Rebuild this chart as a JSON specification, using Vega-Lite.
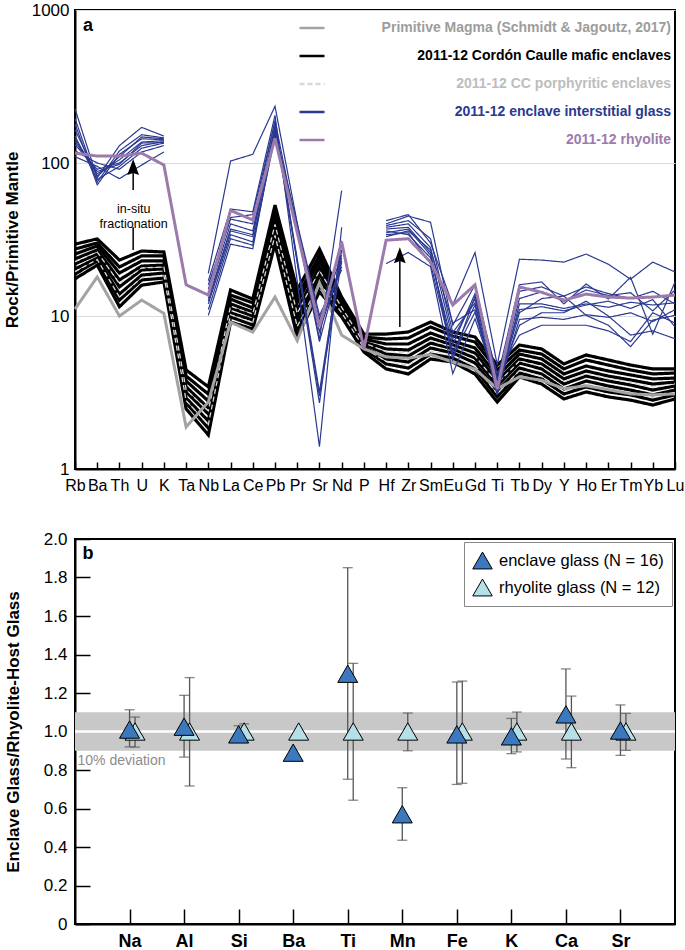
{
"$schema":"https://vega.github.io/schema/vega-lite/v6.json",
"background":"white",
"padding":{"left":2,"top":0,"right":5,"bottom":0},
"spacing":35,
"config":{"font":"Liberation Sans","view":{"stroke":"black","strokeWidth":2},"axis":{"domainColor":"black","domainWidth":2,"tickColor":"black","tickWidth":1.5,"labelColor":"black","titleColor":"black","labelOverlap":false}},
"resolve":{"scale":{"x":"independent","y":"independent","color":"independent","strokeDash":"independent","fill":"independent","xOffset":"independent"},"legend":{"color":"independent","fill":"independent","strokeDash":"independent"}},
"datasets":{
"sp":[
{"g":"ME","s":"M0","e":"Rb","v":29.5},{"g":"ME","s":"M0","e":"Ba","v":31.9},{"g":"ME","s":"M0","e":"Th","v":23.2},{"g":"ME","s":"M0","e":"U","v":26.6},{"g":"ME","s":"M0","e":"K","v":26.2},{"g":"ME","s":"M0","e":"Ta","v":4.44},{"g":"ME","s":"M0","e":"Nb","v":3.44},{"g":"ME","s":"M0","e":"La","v":14.8},{"g":"ME","s":"M0","e":"Ce","v":12.9},{"g":"ME","s":"M0","e":"Pb","v":53.1},{"g":"ME","s":"M0","e":"Pr","v":14.8},{"g":"ME","s":"M0","e":"Sr","v":27.4},{"g":"ME","s":"M0","e":"Nd","v":13.3},{"g":"ME","s":"M0","e":"P","v":7.62},{"g":"ME","s":"M0","e":"Hf","v":7.62},{"g":"ME","s":"M0","e":"Zr","v":7.86},{"g":"ME","s":"M0","e":"Sm","v":9.13},{"g":"ME","s":"M0","e":"Eu","v":7.86},{"g":"ME","s":"M0","e":"Gd","v":7.29},{"g":"ME","s":"M0","e":"Ti","v":4.78},{"g":"ME","s":"M0","e":"Tb","v":6.46},{"g":"ME","s":"M0","e":"Dy","v":6.09},{"g":"ME","s":"M0","e":"Y","v":4.86},{"g":"ME","s":"M0","e":"Ho","v":5.56},{"g":"ME","s":"M0","e":"Er","v":5.16},{"g":"ME","s":"M0","e":"Tm","v":4.78},{"g":"ME","s":"M0","e":"Yb","v":4.51},{"g":"ME","s":"M0","e":"Lu","v":4.51},
{"g":"ME","s":"M1","e":"Rb","v":27.4},{"g":"ME","s":"M1","e":"Ba","v":30.0},{"g":"ME","s":"M1","e":"Th","v":20.9},{"g":"ME","s":"M1","e":"U","v":24.7},{"g":"ME","s":"M1","e":"K","v":24.7},{"g":"ME","s":"M1","e":"Ta","v":4.05},{"g":"ME","s":"M1","e":"Nb","v":3.09},{"g":"ME","s":"M1","e":"La","v":13.7},{"g":"ME","s":"M1","e":"Ce","v":12.2},{"g":"ME","s":"M1","e":"Pb","v":48.6},{"g":"ME","s":"M1","e":"Pr","v":13.3},{"g":"ME","s":"M1","e":"Sr","v":25.0},{"g":"ME","s":"M1","e":"Nd","v":12.7},{"g":"ME","s":"M1","e":"P","v":7.29},{"g":"ME","s":"M1","e":"Hf","v":7.07},{"g":"ME","s":"M1","e":"Zr","v":7.18},{"g":"ME","s":"M1","e":"Sm","v":8.48},{"g":"ME","s":"M1","e":"Eu","v":7.40},{"g":"ME","s":"M1","e":"Gd","v":6.76},{"g":"ME","s":"M1","e":"Ti","v":4.44},{"g":"ME","s":"M1","e":"Tb","v":5.99},{"g":"ME","s":"M1","e":"Dy","v":5.64},{"g":"ME","s":"M1","e":"Y","v":4.51},{"g":"ME","s":"M1","e":"Ho","v":5.16},{"g":"ME","s":"M1","e":"Er","v":4.78},{"g":"ME","s":"M1","e":"Tm","v":4.44},{"g":"ME","s":"M1","e":"Yb","v":4.18},{"g":"ME","s":"M1","e":"Lu","v":4.24},
{"g":"ME","s":"M2","e":"Rb","v":25.4},{"g":"ME","s":"M2","e":"Ba","v":28.7},{"g":"ME","s":"M2","e":"Th","v":19.1},{"g":"ME","s":"M2","e":"U","v":22.9},{"g":"ME","s":"M2","e":"K","v":22.9},{"g":"ME","s":"M2","e":"Ta","v":3.76},{"g":"ME","s":"M2","e":"Nb","v":2.78},{"g":"ME","s":"M2","e":"La","v":12.9},{"g":"ME","s":"M2","e":"Ce","v":11.3},{"g":"ME","s":"M2","e":"Pb","v":45.0},{"g":"ME","s":"M2","e":"Pr","v":12.2},{"g":"ME","s":"M2","e":"Sr","v":22.9},{"g":"ME","s":"M2","e":"Nd","v":12.2},{"g":"ME","s":"M2","e":"P","v":7.07},{"g":"ME","s":"M2","e":"Hf","v":6.56},{"g":"ME","s":"M2","e":"Zr","v":6.56},{"g":"ME","s":"M2","e":"Sm","v":7.74},{"g":"ME","s":"M2","e":"Eu","v":6.86},{"g":"ME","s":"M2","e":"Gd","v":6.18},{"g":"ME","s":"M2","e":"Ti","v":4.05},{"g":"ME","s":"M2","e":"Tb","v":5.64},{"g":"ME","s":"M2","e":"Dy","v":5.24},{"g":"ME","s":"M2","e":"Y","v":4.18},{"g":"ME","s":"M2","e":"Ho","v":4.71},{"g":"ME","s":"M2","e":"Er","v":4.37},{"g":"ME","s":"M2","e":"Tm","v":4.12},{"g":"ME","s":"M2","e":"Yb","v":3.88},{"g":"ME","s":"M2","e":"Lu","v":3.93},
{"g":"ME","s":"M3","e":"Rb","v":23.6},{"g":"ME","s":"M3","e":"Ba","v":27.0},{"g":"ME","s":"M3","e":"Th","v":17.2},{"g":"ME","s":"M3","e":"U","v":21.2},{"g":"ME","s":"M3","e":"K","v":21.5},{"g":"ME","s":"M3","e":"Ta","v":3.44},{"g":"ME","s":"M3","e":"Nb","v":2.50},{"g":"ME","s":"M3","e":"La","v":12.0},{"g":"ME","s":"M3","e":"Ce","v":10.6},{"g":"ME","s":"M3","e":"Pb","v":41.2},{"g":"ME","s":"M3","e":"Pr","v":10.9},{"g":"ME","s":"M3","e":"Sr","v":20.9},{"g":"ME","s":"M3","e":"Nd","v":11.6},{"g":"ME","s":"M3","e":"P","v":6.76},{"g":"ME","s":"M3","e":"Hf","v":6.09},{"g":"ME","s":"M3","e":"Zr","v":5.99},{"g":"ME","s":"M3","e":"Sm","v":7.18},{"g":"ME","s":"M3","e":"Eu","v":6.46},{"g":"ME","s":"M3","e":"Gd","v":5.73},{"g":"ME","s":"M3","e":"Ti","v":3.76},{"g":"ME","s":"M3","e":"Tb","v":5.24},{"g":"ME","s":"M3","e":"Dy","v":4.86},{"g":"ME","s":"M3","e":"Y","v":3.88},{"g":"ME","s":"M3","e":"Ho","v":4.37},{"g":"ME","s":"M3","e":"Er","v":4.05},{"g":"ME","s":"M3","e":"Tm","v":3.82},{"g":"ME","s":"M3","e":"Yb","v":3.59},{"g":"ME","s":"M3","e":"Lu","v":3.70},
{"g":"ME","s":"M4","e":"Rb","v":21.9},{"g":"ME","s":"M4","e":"Ba","v":25.4},{"g":"ME","s":"M4","e":"Th","v":15.5},{"g":"ME","s":"M4","e":"U","v":20.0},{"g":"ME","s":"M4","e":"K","v":20.3},{"g":"ME","s":"M4","e":"Ta","v":3.19},{"g":"ME","s":"M4","e":"Nb","v":2.29},{"g":"ME","s":"M4","e":"La","v":11.3},{"g":"ME","s":"M4","e":"Ce","v":10.0},{"g":"ME","s":"M4","e":"Pb","v":38.2},{"g":"ME","s":"M4","e":"Pr","v":9.86},{"g":"ME","s":"M4","e":"Sr","v":18.8},{"g":"ME","s":"M4","e":"Nd","v":11.3},{"g":"ME","s":"M4","e":"P","v":6.56},{"g":"ME","s":"M4","e":"Hf","v":5.64},{"g":"ME","s":"M4","e":"Zr","v":5.48},{"g":"ME","s":"M4","e":"Sm","v":6.66},{"g":"ME","s":"M4","e":"Eu","v":6.09},{"g":"ME","s":"M4","e":"Gd","v":5.31},{"g":"ME","s":"M4","e":"Ti","v":3.49},{"g":"ME","s":"M4","e":"Tb","v":4.93},{"g":"ME","s":"M4","e":"Dy","v":4.51},{"g":"ME","s":"M4","e":"Y","v":3.59},{"g":"ME","s":"M4","e":"Ho","v":4.05},{"g":"ME","s":"M4","e":"Er","v":3.76},{"g":"ME","s":"M4","e":"Tm","v":3.54},{"g":"ME","s":"M4","e":"Yb","v":3.28},{"g":"ME","s":"M4","e":"Lu","v":3.49},
{"g":"ME","s":"M5","e":"Rb","v":20.3},{"g":"ME","s":"M5","e":"Ba","v":23.9},{"g":"ME","s":"M5","e":"Th","v":13.9},{"g":"ME","s":"M5","e":"U","v":18.5},{"g":"ME","s":"M5","e":"K","v":19.1},{"g":"ME","s":"M5","e":"Ta","v":2.91},{"g":"ME","s":"M5","e":"Nb","v":2.06},{"g":"ME","s":"M5","e":"La","v":10.5},{"g":"ME","s":"M5","e":"Ce","v":9.41},{"g":"ME","s":"M5","e":"Pb","v":34.9},{"g":"ME","s":"M5","e":"Pr","v":9.0},{"g":"ME","s":"M5","e":"Sr","v":17.2},{"g":"ME","s":"M5","e":"Nd","v":10.8},{"g":"ME","s":"M5","e":"P","v":6.27},{"g":"ME","s":"M5","e":"Hf","v":5.24},{"g":"ME","s":"M5","e":"Zr","v":5.0},{"g":"ME","s":"M5","e":"Sm","v":6.18},{"g":"ME","s":"M5","e":"Eu","v":5.73},{"g":"ME","s":"M5","e":"Gd","v":4.93},{"g":"ME","s":"M5","e":"Ti","v":3.24},{"g":"ME","s":"M5","e":"Tb","v":4.57},{"g":"ME","s":"M5","e":"Dy","v":4.18},{"g":"ME","s":"M5","e":"Y","v":3.33},{"g":"ME","s":"M5","e":"Ho","v":3.76},{"g":"ME","s":"M5","e":"Er","v":3.49},{"g":"ME","s":"M5","e":"Tm","v":3.28},{"g":"ME","s":"M5","e":"Yb","v":3.05},{"g":"ME","s":"M5","e":"Lu","v":3.28},
{"g":"ME","s":"M6","e":"Rb","v":18.8},{"g":"ME","s":"M6","e":"Ba","v":22.9},{"g":"ME","s":"M6","e":"Th","v":12.7},{"g":"ME","s":"M6","e":"U","v":17.2},{"g":"ME","s":"M6","e":"K","v":17.7},{"g":"ME","s":"M6","e":"Ta","v":2.70},{"g":"ME","s":"M6","e":"Nb","v":1.85},{"g":"ME","s":"M6","e":"La","v":9.86},{"g":"ME","s":"M6","e":"Ce","v":8.73},{"g":"ME","s":"M6","e":"Pb","v":32.3},{"g":"ME","s":"M6","e":"Pr","v":8.10},{"g":"ME","s":"M6","e":"Sr","v":15.7},{"g":"ME","s":"M6","e":"Nd","v":10.3},{"g":"ME","s":"M6","e":"P","v":6.09},{"g":"ME","s":"M6","e":"Hf","v":4.86},{"g":"ME","s":"M6","e":"Zr","v":4.57},{"g":"ME","s":"M6","e":"Sm","v":5.64},{"g":"ME","s":"M6","e":"Eu","v":5.31},{"g":"ME","s":"M6","e":"Gd","v":4.51},{"g":"ME","s":"M6","e":"Ti","v":2.96},{"g":"ME","s":"M6","e":"Tb","v":4.24},{"g":"ME","s":"M6","e":"Dy","v":3.88},{"g":"ME","s":"M6","e":"Y","v":3.09},{"g":"ME","s":"M6","e":"Ho","v":3.44},{"g":"ME","s":"M6","e":"Er","v":3.19},{"g":"ME","s":"M6","e":"Tm","v":3.05},{"g":"ME","s":"M6","e":"Yb","v":2.82},{"g":"ME","s":"M6","e":"Lu","v":3.05},
{"g":"ME","s":"M7","e":"Rb","v":17.5},{"g":"ME","s":"M7","e":"Ba","v":21.5},{"g":"ME","s":"M7","e":"Th","v":11.5},{"g":"ME","s":"M7","e":"U","v":15.9},{"g":"ME","s":"M7","e":"K","v":16.7},{"g":"ME","s":"M7","e":"Ta","v":2.47},{"g":"ME","s":"M7","e":"Nb","v":1.67},{"g":"ME","s":"M7","e":"La","v":9.13},{"g":"ME","s":"M7","e":"Ce","v":8.22},{"g":"ME","s":"M7","e":"Pb","v":29.5},{"g":"ME","s":"M7","e":"Pr","v":7.29},{"g":"ME","s":"M7","e":"Sr","v":14.4},{"g":"ME","s":"M7","e":"Nd","v":9.86},{"g":"ME","s":"M7","e":"P","v":5.82},{"g":"ME","s":"M7","e":"Hf","v":4.51},{"g":"ME","s":"M7","e":"Zr","v":4.18},{"g":"ME","s":"M7","e":"Sm","v":5.24},{"g":"ME","s":"M7","e":"Eu","v":5.0},{"g":"ME","s":"M7","e":"Gd","v":4.18},{"g":"ME","s":"M7","e":"Ti","v":2.74},{"g":"ME","s":"M7","e":"Tb","v":4.0},{"g":"ME","s":"M7","e":"Dy","v":3.59},{"g":"ME","s":"M7","e":"Y","v":2.87},{"g":"ME","s":"M7","e":"Ho","v":3.19},{"g":"ME","s":"M7","e":"Er","v":2.96},{"g":"ME","s":"M7","e":"Tm","v":2.82},{"g":"ME","s":"M7","e":"Yb","v":2.62},{"g":"ME","s":"M7","e":"Lu","v":2.87},
{"g":"PE","s":"D1","e":"Rb","v":22.7},{"g":"PE","s":"D1","e":"Ba","v":26.2},{"g":"PE","s":"D1","e":"Th","v":16.3},{"g":"PE","s":"D1","e":"U","v":20.6},{"g":"PE","s":"D1","e":"K","v":20.9},{"g":"PE","s":"D1","e":"Ta","v":3.3},{"g":"PE","s":"D1","e":"Nb","v":2.4},{"g":"PE","s":"D1","e":"La","v":11.6},{"g":"PE","s":"D1","e":"Ce","v":10.3},{"g":"PE","s":"D1","e":"Pb","v":39.7},{"g":"PE","s":"D1","e":"Pr","v":10.4},{"g":"PE","s":"D1","e":"Sr","v":19.8},{"g":"PE","s":"D1","e":"Nd","v":11.4},{"g":"PE","s":"D1","e":"P","v":6.66},{"g":"PE","s":"D1","e":"Hf","v":5.86},{"g":"PE","s":"D1","e":"Zr","v":5.73},{"g":"PE","s":"D1","e":"Sm","v":6.9},{"g":"PE","s":"D1","e":"Eu","v":6.27},{"g":"PE","s":"D1","e":"Gd","v":5.5},{"g":"PE","s":"D1","e":"Ti","v":3.62},{"g":"PE","s":"D1","e":"Tb","v":5.08},{"g":"PE","s":"D1","e":"Dy","v":4.68},{"g":"PE","s":"D1","e":"Y","v":3.73},{"g":"PE","s":"D1","e":"Ho","v":4.2},{"g":"PE","s":"D1","e":"Er","v":3.9},{"g":"PE","s":"D1","e":"Tm","v":3.68},{"g":"PE","s":"D1","e":"Yb","v":3.43},{"g":"PE","s":"D1","e":"Lu","v":3.6},
{"g":"PE","s":"D2","e":"Rb","v":19.5},{"g":"PE","s":"D2","e":"Ba","v":23.4},{"g":"PE","s":"D2","e":"Th","v":13.3},{"g":"PE","s":"D2","e":"U","v":17.8},{"g":"PE","s":"D2","e":"K","v":18.4},{"g":"PE","s":"D2","e":"Ta","v":2.8},{"g":"PE","s":"D2","e":"Nb","v":1.95},{"g":"PE","s":"D2","e":"La","v":10.2},{"g":"PE","s":"D2","e":"Ce","v":9.07},{"g":"PE","s":"D2","e":"Pb","v":33.6},{"g":"PE","s":"D2","e":"Pr","v":8.55},{"g":"PE","s":"D2","e":"Sr","v":16.4},{"g":"PE","s":"D2","e":"Nd","v":10.5},{"g":"PE","s":"D2","e":"P","v":6.18},{"g":"PE","s":"D2","e":"Hf","v":5.05},{"g":"PE","s":"D2","e":"Zr","v":4.78},{"g":"PE","s":"D2","e":"Sm","v":5.9},{"g":"PE","s":"D2","e":"Eu","v":5.52},{"g":"PE","s":"D2","e":"Gd","v":4.72},{"g":"PE","s":"D2","e":"Ti","v":3.1},{"g":"PE","s":"D2","e":"Tb","v":4.4},{"g":"PE","s":"D2","e":"Dy","v":4.03},{"g":"PE","s":"D2","e":"Y","v":3.21},{"g":"PE","s":"D2","e":"Ho","v":3.6},{"g":"PE","s":"D2","e":"Er","v":3.34},{"g":"PE","s":"D2","e":"Tm","v":3.16},{"g":"PE","s":"D2","e":"Yb","v":2.93},{"g":"PE","s":"D2","e":"Lu","v":3.16},
{"g":"PM","s":"P0","e":"Rb","v":11.1},{"g":"PM","s":"P0","e":"Ba","v":18.0},{"g":"PM","s":"P0","e":"Th","v":10.0},{"g":"PM","s":"P0","e":"U","v":12.7},{"g":"PM","s":"P0","e":"K","v":10.4},{"g":"PM","s":"P0","e":"Ta","v":1.88},{"g":"PM","s":"P0","e":"Nb","v":2.74},{"g":"PM","s":"P0","e":"La","v":9.1},{"g":"PM","s":"P0","e":"Ce","v":7.85},{"g":"PM","s":"P0","e":"Pb","v":13.3},{"g":"PM","s":"P0","e":"Pr","v":6.9},{"g":"PM","s":"P0","e":"Sr","v":16.5},{"g":"PM","s":"P0","e":"Nd","v":7.5},{"g":"PM","s":"P0","e":"P","v":6.1},{"g":"PM","s":"P0","e":"Hf","v":5.4},{"g":"PM","s":"P0","e":"Zr","v":5.3},{"g":"PM","s":"P0","e":"Sm","v":5.6},{"g":"PM","s":"P0","e":"Eu","v":5.0},{"g":"PM","s":"P0","e":"Gd","v":4.5},{"g":"PM","s":"P0","e":"Ti","v":3.35},{"g":"PM","s":"P0","e":"Tb","v":4.0},{"g":"PM","s":"P0","e":"Dy","v":3.8},{"g":"PM","s":"P0","e":"Y","v":3.35},{"g":"PM","s":"P0","e":"Ho","v":3.5},{"g":"PM","s":"P0","e":"Er","v":3.3},{"g":"PM","s":"P0","e":"Tm","v":3.1},{"g":"PM","s":"P0","e":"Yb","v":3.05},{"g":"PM","s":"P0","e":"Lu","v":3.1},
{"g":"GL","s":"G1a","e":"Rb","v":226},{"g":"GL","s":"G1a","e":"Ba","v":80},{"g":"GL","s":"G1a","e":"Th","v":130},{"g":"GL","s":"G1a","e":"U","v":171},{"g":"GL","s":"G1a","e":"K","v":150},
{"g":"GL","s":"G1b","e":"Nb","v":19},{"g":"GL","s":"G1b","e":"La","v":103},{"g":"GL","s":"G1b","e":"Ce","v":114},{"g":"GL","s":"G1b","e":"Pb","v":235},{"g":"GL","s":"G1b","e":"Sr","v":7.0},{"g":"GL","s":"G1b","e":"Nd","v":66},
{"g":"GL","s":"G1c","e":"Hf","v":42},{"g":"GL","s":"G1c","e":"Zr","v":46},{"g":"GL","s":"G1c","e":"Sm","v":30},{"g":"GL","s":"G1c","e":"Eu","v":11.8},{"g":"GL","s":"G1c","e":"Gd","v":26},{"g":"GL","s":"G1c","e":"Ti","v":4.8},{"g":"GL","s":"G1c","e":"Tb","v":23.5},{"g":"GL","s":"G1c","e":"Dy","v":23.2},{"g":"GL","s":"G1c","e":"Y","v":22.5},{"g":"GL","s":"G1c","e":"Ho","v":25.4},{"g":"GL","s":"G1c","e":"Er","v":21.8},{"g":"GL","s":"G1c","e":"Tm","v":17.4},{"g":"GL","s":"G1c","e":"Yb","v":22.5},{"g":"GL","s":"G1c","e":"Lu","v":19.4},
{"g":"GL","s":"G2a","e":"Rb","v":195},{"g":"GL","s":"G2a","e":"Ba","v":75},{"g":"GL","s":"G2a","e":"Th","v":120},{"g":"GL","s":"G2a","e":"U","v":153},{"g":"GL","s":"G2a","e":"K","v":146},
{"g":"GL","s":"G2b","e":"Nb","v":17},{"g":"GL","s":"G2b","e":"La","v":50},{"g":"GL","s":"G2b","e":"Ce","v":48},{"g":"GL","s":"G2b","e":"Pb","v":205},{"g":"GL","s":"G2b","e":"Sr","v":1.4},{"g":"GL","s":"G2b","e":"Nd","v":38},
{"g":"GL","s":"G2c","e":"Hf","v":40},{"g":"GL","s":"G2c","e":"Zr","v":45},{"g":"GL","s":"G2c","e":"Sm","v":41},{"g":"GL","s":"G2c","e":"Eu","v":8.7},{"g":"GL","s":"G2c","e":"Gd","v":16},{"g":"GL","s":"G2c","e":"Ti","v":3.9},{"g":"GL","s":"G2c","e":"Tb","v":16},{"g":"GL","s":"G2c","e":"Dy","v":16.7},{"g":"GL","s":"G2c","e":"Y","v":12},{"g":"GL","s":"G2c","e":"Ho","v":16.2},{"g":"GL","s":"G2c","e":"Er","v":12.9},{"g":"GL","s":"G2c","e":"Tm","v":17.9},{"g":"GL","s":"G2c","e":"Yb","v":7.6},{"g":"GL","s":"G2c","e":"Lu","v":16.7},
{"g":"GL","s":"G3a","e":"Rb","v":180},{"g":"GL","s":"G3a","e":"Ba","v":72},{"g":"GL","s":"G3a","e":"Th","v":114},{"g":"GL","s":"G3a","e":"U","v":144},{"g":"GL","s":"G3a","e":"K","v":142},
{"g":"GL","s":"G3b","e":"Nb","v":15},{"g":"GL","s":"G3b","e":"La","v":44},{"g":"GL","s":"G3b","e":"Ce","v":46},{"g":"GL","s":"G3b","e":"Pb","v":185},{"g":"GL","s":"G3b","e":"Sr","v":2.7},{"g":"GL","s":"G3b","e":"Nd","v":31},
{"g":"GL","s":"G3c","e":"Hf","v":38},{"g":"GL","s":"G3c","e":"Zr","v":40},{"g":"GL","s":"G3c","e":"Sm","v":28},{"g":"GL","s":"G3c","e":"Eu","v":7.1},{"g":"GL","s":"G3c","e":"Gd","v":12.9},{"g":"GL","s":"G3c","e":"Ti","v":3.5},{"g":"GL","s":"G3c","e":"Tb","v":14.5},{"g":"GL","s":"G3c","e":"Dy","v":15.5},{"g":"GL","s":"G3c","e":"Y","v":13.5},{"g":"GL","s":"G3c","e":"Ho","v":15.5},{"g":"GL","s":"G3c","e":"Er","v":14},{"g":"GL","s":"G3c","e":"Tm","v":13},{"g":"GL","s":"G3c","e":"Yb","v":14.5},{"g":"GL","s":"G3c","e":"Lu","v":12},
{"g":"GL","s":"G4a","e":"Rb","v":144},{"g":"GL","s":"G4a","e":"Ba","v":85},{"g":"GL","s":"G4a","e":"Th","v":105},{"g":"GL","s":"G4a","e":"U","v":137},{"g":"GL","s":"G4a","e":"K","v":140},
{"g":"GL","s":"G4b","e":"Nb","v":14},{"g":"GL","s":"G4b","e":"La","v":40},{"g":"GL","s":"G4b","e":"Ce","v":36},{"g":"GL","s":"G4b","e":"Pb","v":175},{"g":"GL","s":"G4b","e":"Sr","v":3.2},{"g":"GL","s":"G4b","e":"Nd","v":27},
{"g":"GL","s":"G4c","e":"Hf","v":35},{"g":"GL","s":"G4c","e":"Zr","v":37},{"g":"GL","s":"G4c","e":"Sm","v":25},{"g":"GL","s":"G4c","e":"Eu","v":5.8},{"g":"GL","s":"G4c","e":"Gd","v":11.8},{"g":"GL","s":"G4c","e":"Ti","v":3.05},{"g":"GL","s":"G4c","e":"Tb","v":12},{"g":"GL","s":"G4c","e":"Dy","v":12},{"g":"GL","s":"G4c","e":"Y","v":11.2},{"g":"GL","s":"G4c","e":"Ho","v":12},{"g":"GL","s":"G4c","e":"Er","v":11.4},{"g":"GL","s":"G4c","e":"Tm","v":12.3},{"g":"GL","s":"G4c","e":"Yb","v":11.8},{"g":"GL","s":"G4c","e":"Lu","v":12.2},
{"g":"GL","s":"G5a","e":"Rb","v":132},{"g":"GL","s":"G5a","e":"Ba","v":91},{"g":"GL","s":"G5a","e":"Th","v":100},{"g":"GL","s":"G5a","e":"U","v":130},{"g":"GL","s":"G5a","e":"K","v":138},
{"g":"GL","s":"G5b","e":"Nb","v":13},{"g":"GL","s":"G5b","e":"La","v":37},{"g":"GL","s":"G5b","e":"Ce","v":34},{"g":"GL","s":"G5b","e":"Pb","v":165},{"g":"GL","s":"G5b","e":"Sr","v":7.9},{"g":"GL","s":"G5b","e":"Nd","v":22.5},
{"g":"GL","s":"G5c","e":"Hf","v":34},{"g":"GL","s":"G5c","e":"Zr","v":35},{"g":"GL","s":"G5c","e":"Sm","v":22},{"g":"GL","s":"G5c","e":"Eu","v":5.5},{"g":"GL","s":"G5c","e":"Gd","v":10.6},{"g":"GL","s":"G5c","e":"Ti","v":3.3},{"g":"GL","s":"G5c","e":"Tb","v":10.5},{"g":"GL","s":"G5c","e":"Dy","v":13},{"g":"GL","s":"G5c","e":"Y","v":13.5},{"g":"GL","s":"G5c","e":"Ho","v":10.1},{"g":"GL","s":"G5c","e":"Er","v":8.7},{"g":"GL","s":"G5c","e":"Tm","v":6.3},{"g":"GL","s":"G5c","e":"Yb","v":9.4},{"g":"GL","s":"G5c","e":"Lu","v":10.1},
{"g":"GL","s":"G6a","e":"Rb","v":150},{"g":"GL","s":"G6a","e":"Ba","v":78},{"g":"GL","s":"G6a","e":"Th","v":95},{"g":"GL","s":"G6a","e":"U","v":125},{"g":"GL","s":"G6a","e":"K","v":135},
{"g":"GL","s":"G6b","e":"Nb","v":12},{"g":"GL","s":"G6b","e":"La","v":34},{"g":"GL","s":"G6b","e":"Ce","v":30.5},{"g":"GL","s":"G6b","e":"Pb","v":155},{"g":"GL","s":"G6b","e":"Sr","v":8.7},{"g":"GL","s":"G6b","e":"Nd","v":21},
{"g":"GL","s":"G6c","e":"Hf","v":22},{"g":"GL","s":"G6c","e":"Zr","v":26},{"g":"GL","s":"G6c","e":"Sm","v":21},{"g":"GL","s":"G6c","e":"Eu","v":4.2},{"g":"GL","s":"G6c","e":"Gd","v":9.6},{"g":"GL","s":"G6c","e":"Ti","v":3.6},{"g":"GL","s":"G6c","e":"Tb","v":8.7},{"g":"GL","s":"G6c","e":"Dy","v":10.5},{"g":"GL","s":"G6c","e":"Y","v":10.5},{"g":"GL","s":"G6c","e":"Ho","v":12.5},{"g":"GL","s":"G6c","e":"Er","v":10},{"g":"GL","s":"G6c","e":"Tm","v":7.5},{"g":"GL","s":"G6c","e":"Yb","v":8},{"g":"GL","s":"G6c","e":"Lu","v":7.1},
{"g":"GL","s":"G7a","e":"Rb","v":120},{"g":"GL","s":"G7a","e":"Ba","v":100},{"g":"GL","s":"G7a","e":"Th","v":91},{"g":"GL","s":"G7a","e":"U","v":118},{"g":"GL","s":"G7a","e":"K","v":130},
{"g":"GL","s":"G7b","e":"Nb","v":11},{"g":"GL","s":"G7b","e":"La","v":32},{"g":"GL","s":"G7b","e":"Ce","v":29},{"g":"GL","s":"G7b","e":"Pb","v":150},{"g":"GL","s":"G7b","e":"Sr","v":9.5},{"g":"GL","s":"G7b","e":"Nd","v":25},
{"g":"GL","s":"G7c","e":"Hf","v":36},{"g":"GL","s":"G7c","e":"Zr","v":34},{"g":"GL","s":"G7c","e":"Sm","v":24},{"g":"GL","s":"G7c","e":"Eu","v":6.5},{"g":"GL","s":"G7c","e":"Gd","v":14},{"g":"GL","s":"G7c","e":"Ti","v":4.2},{"g":"GL","s":"G7c","e":"Tb","v":7.5},{"g":"GL","s":"G7c","e":"Dy","v":8.7},{"g":"GL","s":"G7c","e":"Y","v":8.7},{"g":"GL","s":"G7c","e":"Ho","v":8.7},{"g":"GL","s":"G7c","e":"Er","v":8},{"g":"GL","s":"G7c","e":"Tm","v":6.8},{"g":"GL","s":"G7c","e":"Yb","v":10.5},{"g":"GL","s":"G7c","e":"Lu","v":9.0},
{"g":"GL","s":"G8a","e":"Rb","v":110},{"g":"GL","s":"G8a","e":"Ba","v":95},{"g":"GL","s":"G8a","e":"Th","v":79},{"g":"GL","s":"G8a","e":"U","v":97},{"g":"GL","s":"G8a","e":"K","v":118},
{"g":"GL","s":"G8b","e":"Nb","v":10.1},{"g":"GL","s":"G8b","e":"La","v":29.5},{"g":"GL","s":"G8b","e":"Ce","v":27.5},{"g":"GL","s":"G8b","e":"Pb","v":160},{"g":"GL","s":"G8b","e":"Sr","v":10.1},{"g":"GL","s":"G8b","e":"Nd","v":20},
{"g":"GL","s":"G8c","e":"Hf","v":33},{"g":"GL","s":"G8c","e":"Zr","v":36},{"g":"GL","s":"G8c","e":"Sm","v":27},{"g":"GL","s":"G8c","e":"Eu","v":9},{"g":"GL","s":"G8c","e":"Gd","v":11},{"g":"GL","s":"G8c","e":"Ti","v":3.4},{"g":"GL","s":"G8c","e":"Tb","v":13},{"g":"GL","s":"G8c","e":"Dy","v":14.4},{"g":"GL","s":"G8c","e":"Y","v":12.5},{"g":"GL","s":"G8c","e":"Ho","v":14.8},{"g":"GL","s":"G8c","e":"Er","v":13.6},{"g":"GL","s":"G8c","e":"Tm","v":14.2},{"g":"GL","s":"G8c","e":"Yb","v":10.8},{"g":"GL","s":"G8c","e":"Lu","v":14.8},
{"g":"GL","s":"G9a","e":"Rb","v":165},{"g":"GL","s":"G9a","e":"Ba","v":82},{"g":"GL","s":"G9a","e":"Th","v":110},{"g":"GL","s":"G9a","e":"U","v":148},{"g":"GL","s":"G9a","e":"K","v":144},
{"g":"GL","s":"G9b","e":"Nb","v":16},{"g":"GL","s":"G9b","e":"La","v":43},{"g":"GL","s":"G9b","e":"Ce","v":40},{"g":"GL","s":"G9b","e":"Pb","v":190},{"g":"GL","s":"G9b","e":"Sr","v":6.8},{"g":"GL","s":"G9b","e":"Nd","v":24},
{"g":"GL","s":"G9c","e":"Hf","v":37},{"g":"GL","s":"G9c","e":"Zr","v":38},{"g":"GL","s":"G9c","e":"Sm","v":26},{"g":"GL","s":"G9c","e":"Eu","v":5.2},{"g":"GL","s":"G9c","e":"Gd","v":13.5},{"g":"GL","s":"G9c","e":"Ti","v":3.7},{"g":"GL","s":"G9c","e":"Tb","v":11},{"g":"GL","s":"G9c","e":"Dy","v":11.5},{"g":"GL","s":"G9c","e":"Y","v":10.8},{"g":"GL","s":"G9c","e":"Ho","v":11.8},{"g":"GL","s":"G9c","e":"Er","v":12.5},{"g":"GL","s":"G9c","e":"Tm","v":11.2},{"g":"GL","s":"G9c","e":"Yb","v":12.8},{"g":"GL","s":"G9c","e":"Lu","v":8.5},
{"g":"GL","s":"G10a","e":"Rb","v":138},{"g":"GL","s":"G10a","e":"Ba","v":88},{"g":"GL","s":"G10a","e":"Th","v":98},{"g":"GL","s":"G10a","e":"U","v":135},{"g":"GL","s":"G10a","e":"K","v":136},
{"g":"GL","s":"G10b","e":"Nb","v":12.5},{"g":"GL","s":"G10b","e":"La","v":36},{"g":"GL","s":"G10b","e":"Ce","v":33},{"g":"GL","s":"G10b","e":"Pb","v":170},{"g":"GL","s":"G10b","e":"Sr","v":3.0},{"g":"GL","s":"G10b","e":"Nd","v":23},
{"g":"GL","s":"G10c","e":"Hf","v":39},{"g":"GL","s":"G10c","e":"Zr","v":42},{"g":"GL","s":"G10c","e":"Sm","v":32},{"g":"GL","s":"G10c","e":"Eu","v":7.8},{"g":"GL","s":"G10c","e":"Gd","v":12.2},{"g":"GL","s":"G10c","e":"Ti","v":3.2},{"g":"GL","s":"G10c","e":"Tb","v":9.5},{"g":"GL","s":"G10c","e":"Dy","v":9.8},{"g":"GL","s":"G10c","e":"Y","v":9.5},{"g":"GL","s":"G10c","e":"Ho","v":10.2},{"g":"GL","s":"G10c","e":"Er","v":9.8},{"g":"GL","s":"G10c","e":"Tm","v":10.5},{"g":"GL","s":"G10c","e":"Yb","v":9.2},{"g":"GL","s":"G10c","e":"Lu","v":11.0},
{"g":"RH","s":"R0","e":"Rb","v":116},{"g":"RH","s":"R0","e":"Ba","v":111},{"g":"RH","s":"R0","e":"Th","v":111},{"g":"RH","s":"R0","e":"U","v":116},{"g":"RH","s":"R0","e":"K","v":97},{"g":"RH","s":"R0","e":"Ta","v":16},{"g":"RH","s":"R0","e":"Nb","v":13.7},{"g":"RH","s":"R0","e":"La","v":49},{"g":"RH","s":"R0","e":"Ce","v":42.4},{"g":"RH","s":"R0","e":"Pb","v":145},{"g":"RH","s":"R0","e":"Sr","v":8.5},{"g":"RH","s":"R0","e":"Nd","v":30.5},{"g":"RH","s":"R0","e":"P","v":6.1},{"g":"RH","s":"R0","e":"Hf","v":31.3},{"g":"RH","s":"R0","e":"Zr","v":32},{"g":"RH","s":"R0","e":"Sm","v":22.5},{"g":"RH","s":"R0","e":"Eu","v":11.8},{"g":"RH","s":"R0","e":"Gd","v":16},{"g":"RH","s":"R0","e":"Ti","v":3.33},{"g":"RH","s":"R0","e":"Tb","v":15.5},{"g":"RH","s":"R0","e":"Dy","v":14.3},{"g":"RH","s":"R0","e":"Y","v":12.7},{"g":"RH","s":"R0","e":"Ho","v":13.9},{"g":"RH","s":"R0","e":"Er","v":13.3},{"g":"RH","s":"R0","e":"Tm","v":13.1},{"g":"RH","s":"R0","e":"Yb","v":13.3},{"g":"RH","s":"R0","e":"Lu","v":13.7}
],
"gl":[
{"el":"Na","grp":"rhy","v":1.0,"lo":0.919,"hi":1.075},{"el":"Al","grp":"rhy","v":1.0,"lo":0.717,"hi":1.28},{"el":"Si","grp":"rhy","v":1.0,"lo":0.98,"hi":1.04},{"el":"Ba","grp":"rhy","v":1.0,"lo":null,"hi":null},{"el":"Ti","grp":"rhy","v":1.0,"lo":0.643,"hi":1.354},{"el":"Mn","grp":"rhy","v":1.0,"lo":0.90,"hi":1.096},{"el":"Fe","grp":"rhy","v":1.0,"lo":0.731,"hi":1.262},{"el":"K","grp":"rhy","v":1.0,"lo":0.894,"hi":1.101},{"el":"Ca","grp":"rhy","v":1.0,"lo":0.812,"hi":1.184},{"el":"Sr","grp":"rhy","v":1.0,"lo":0.902,"hi":1.094},
{"el":"Na","grp":"enc","v":1.01,"lo":0.92,"hi":1.113},{"el":"Al","grp":"enc","v":1.025,"lo":0.867,"hi":1.188},{"el":"Si","grp":"enc","v":0.985,"lo":0.96,"hi":1.03},{"el":"Ba","grp":"enc","v":0.89,"lo":null,"hi":null},{"el":"Ti","grp":"enc","v":1.30,"lo":0.752,"hi":1.851},{"el":"Mn","grp":"enc","v":0.57,"lo":0.435,"hi":0.708},{"el":"Fe","grp":"enc","v":0.985,"lo":0.725,"hi":1.257},{"el":"K","grp":"enc","v":0.975,"lo":0.885,"hi":1.068},{"el":"Ca","grp":"enc","v":1.089,"lo":0.857,"hi":1.325},{"el":"Sr","grp":"enc","v":1.005,"lo":0.876,"hi":1.138}
]
},
"vconcat":[
{
"width":600,"height":459,
"encoding":{
"x":{"field":"e","type":"ordinal","scale":{"type":"point","padding":0,"domain":["Rb","Ba","Th","U","K","Ta","Nb","La","Ce","Pb","Pr","Sr","Nd","P","Hf","Zr","Sm","Eu","Gd","Ti","Tb","Dy","Y","Ho","Er","Tm","Yb","Lu"]},"axis":{"title":null,"labelAngle":0,"labelFontSize":16,"tickSize":-7,"labelPadding":15,"grid":false}},
"y":{"field":"v","type":"quantitative","scale":{"type":"log","domain":[1,1000]},"axis":{"values":[1,10,100,1000],"format":"d","title":"Rock/Primitive Mantle","titleFontSize":17,"titleFontWeight":"bold","titlePadding":10,"labelFontSize":17,"ticks":false,"labelPadding":6,"grid":true,"gridColor":"#dcdcdc"}}
},
"layer":[
{"data":{"name":"sp"},"transform":[{"filter":"datum.g=='ME'"}],"mark":{"type":"line","strokeWidth":3.2},
"encoding":{"detail":{"field":"s"},
"color":{"field":"g","type":"nominal","scale":{"domain":["PM","ME","PE","GL","RH"],"range":["#a3a3a3","#000000","#d9d9d9","#2b3990","#9c7bac"]},"legend":{"title":null,"orient":"top-right","offset":4,"symbolType":"stroke","symbolSize":625,"symbolStrokeWidth":2.5,"labelFontSize":14,"labelFontWeight":"bold","labelAlign":"right","labelOffset":345,"labelLimit":400,"rowPadding":7,"labelExpr":"datum.value=='PM'?'Primitive Magma (Schmidt & Jagoutz, 2017)':datum.value=='ME'?'2011-12 Cordón Caulle mafic enclaves':datum.value=='PE'?'2011-12 CC porphyritic enclaves':datum.value=='GL'?'2011-12 enclave interstitial glass':'2011-12 rhyolite'","labelColor":{"expr":"datum.value=='PM'?'#9d9d9d':datum.value=='ME'?'#000000':datum.value=='PE'?'#bdbdbd':datum.value=='GL'?'#2b3990':'#9c7bac'"}}},
"strokeDash":{"field":"g","type":"nominal","scale":{"domain":["PM","ME","PE","GL","RH"],"range":[[1,0],[1,0],[5,3],[1,0],[1,0]]},"legend":{"title":null,"orient":"top-right","offset":4,"symbolType":"stroke","symbolSize":625,"symbolStrokeWidth":2.5,"labelFontSize":14,"labelFontWeight":"bold","labelAlign":"right","labelOffset":345,"labelLimit":400,"rowPadding":7,"labelExpr":"datum.value=='PM'?'Primitive Magma (Schmidt & Jagoutz, 2017)':datum.value=='ME'?'2011-12 Cordón Caulle mafic enclaves':datum.value=='PE'?'2011-12 CC porphyritic enclaves':datum.value=='GL'?'2011-12 enclave interstitial glass':'2011-12 rhyolite'","labelColor":{"expr":"datum.value=='PM'?'#9d9d9d':datum.value=='ME'?'#000000':datum.value=='PE'?'#bdbdbd':datum.value=='GL'?'#2b3990':'#9c7bac'"}}}}},
{"data":{"name":"sp"},"transform":[{"filter":"datum.g=='PE'"}],"mark":{"type":"line","strokeWidth":1.3},
"encoding":{"detail":{"field":"s"},"color":{"field":"g","type":"nominal","scale":{"domain":["PM","ME","PE","GL","RH"],"range":["#a3a3a3","#000000","#d9d9d9","#2b3990","#9c7bac"]}},"strokeDash":{"field":"g","type":"nominal","scale":{"domain":["PM","ME","PE","GL","RH"],"range":[[1,0],[1,0],[5,3],[1,0],[1,0]]}}}},
{"data":{"name":"sp"},"transform":[{"filter":"datum.g=='PM'"}],"mark":{"type":"line","strokeWidth":3},
"encoding":{"detail":{"field":"s"},"color":{"field":"g","type":"nominal","scale":{"domain":["PM","ME","PE","GL","RH"],"range":["#a3a3a3","#000000","#d9d9d9","#2b3990","#9c7bac"]}},"strokeDash":{"field":"g","type":"nominal","scale":{"domain":["PM","ME","PE","GL","RH"],"range":[[1,0],[1,0],[5,3],[1,0],[1,0]]}}}},
{"data":{"name":"sp"},"transform":[{"filter":"datum.g=='GL'"}],"mark":{"type":"line","strokeWidth":1.2},
"encoding":{"detail":{"field":"s"},"color":{"field":"g","type":"nominal","scale":{"domain":["PM","ME","PE","GL","RH"],"range":["#a3a3a3","#000000","#d9d9d9","#2b3990","#9c7bac"]}},"strokeDash":{"field":"g","type":"nominal","scale":{"domain":["PM","ME","PE","GL","RH"],"range":[[1,0],[1,0],[5,3],[1,0],[1,0]]}}}},
{"data":{"name":"sp"},"transform":[{"filter":"datum.g=='RH'"}],"mark":{"type":"line","strokeWidth":3},
"encoding":{"detail":{"field":"s"},"color":{"field":"g","type":"nominal","scale":{"domain":["PM","ME","PE","GL","RH"],"range":["#a3a3a3","#000000","#d9d9d9","#2b3990","#9c7bac"]}},"strokeDash":{"field":"g","type":"nominal","scale":{"domain":["PM","ME","PE","GL","RH"],"range":[[1,0],[1,0],[5,3],[1,0],[1,0]]}}}},
{"data":{"values":[{"e":"U","v":27,"v2":38},{"e":"U","v":66.6,"v2":88},{"e":"Zr","v":8.47,"v2":23.2}]},"mark":{"type":"rule","color":"black","strokeWidth":1.5,"xOffset":-8.5},"encoding":{"y2":{"field":"v2"}}},
{"data":{"values":[{"e":"U","v":90.4},{"e":"Zr","v":24.0}]},"mark":{"type":"point","shape":"M0,-1L0.55,0.5L0,0.3L-0.55,0.5Z","size":455,"filled":true,"color":"black","opacity":1,"xOffset":-8.5}},
{"data":{"values":[{"e":"U","v":49.7,"t":"in-situ\nfractionation"}]},"mark":{"type":"text","lineBreak":"\n","fontSize":12.5,"lineHeight":15,"align":"center","baseline":"middle","dx":-8},"encoding":{"text":{"field":"t"}}},
{"data":{"values":[{"e":"Rb","v":790,"t":"a"}]},"mark":{"type":"text","fontSize":18,"fontWeight":"bold","align":"left","baseline":"middle","dx":8},"encoding":{"text":{"field":"t"}}}
]
},
{
"width":600,"height":385,
"layer":[
{"data":{"values":[{"lo":0.9,"hi":1.1}]},"mark":{"type":"rect","color":"#c8c8c8"},"encoding":{"y":{"field":"lo","type":"quantitative","scale":{"domain":[0,2]},"axis":{"values":[0,0.2,0.4,0.6,0.8,1,1.2,1.4,1.6,1.8,2],"labelExpr":"datum.value==0?'0':format(datum.value,'.1f')","labelFontSize":17,"labelOverlap":false,"tickSize":-15,"labelPadding":23,"title":"Enclave Glass/Rhyolite-Host Glass","titleFontSize":17,"titleFontWeight":"bold","titlePadding":21,"grid":false}},"y2":{"field":"hi"}}},
{"data":{"values":[{"v":1}]},"mark":{"type":"rule","color":"white","strokeWidth":2.5},"encoding":{"y":{"field":"v","type":"quantitative","scale":{"domain":[0,2]},"axis":{"values":[0,0.2,0.4,0.6,0.8,1,1.2,1.4,1.6,1.8,2],"labelExpr":"datum.value==0?'0':format(datum.value,'.1f')","labelFontSize":17,"labelOverlap":false,"tickSize":-15,"labelPadding":23,"title":"Enclave Glass/Rhyolite-Host Glass","titleFontSize":17,"titleFontWeight":"bold","titlePadding":21,"grid":false}}}},
{"data":{"name":"gl"},"transform":[{"filter":"isValid(datum.lo)"}],"mark":{"type":"rule","color":"#555555","strokeWidth":1.3},
"encoding":{"x":{"field":"el","type":"nominal","scale":{"type":"point","padding":1,"domain":["Na","Al","Si","Ba","Ti","Mn","Fe","K","Ca","Sr"]},"axis":{"title":null,"labelAngle":0,"labelFontSize":18,"labelFontWeight":"bold","tickSize":-15,"labelPadding":23,"grid":false}},"xOffset":{"field":"grp","type":"nominal","scale":{"type":"point","padding":0,"domain":["enc","rhy"],"range":[0,5.5]}},"y":{"field":"lo","type":"quantitative","scale":{"domain":[0,2]},"axis":{"values":[0,0.2,0.4,0.6,0.8,1,1.2,1.4,1.6,1.8,2],"labelExpr":"datum.value==0?'0':format(datum.value,'.1f')","labelFontSize":17,"labelOverlap":false,"tickSize":-15,"labelPadding":23,"title":"Enclave Glass/Rhyolite-Host Glass","titleFontSize":17,"titleFontWeight":"bold","titlePadding":21,"grid":false}},"y2":{"field":"hi"}}},
{"data":{"name":"gl"},"transform":[{"filter":"isValid(datum.lo)"}],"mark":{"type":"tick","orient":"horizontal","size":10,"thickness":1.3,"color":"#555555"},
"encoding":{"x":{"field":"el","type":"nominal","scale":{"type":"point","padding":1,"domain":["Na","Al","Si","Ba","Ti","Mn","Fe","K","Ca","Sr"]},"axis":{"title":null,"labelAngle":0,"labelFontSize":18,"labelFontWeight":"bold","tickSize":-15,"labelPadding":23,"grid":false}},"xOffset":{"field":"grp","type":"nominal","scale":{"type":"point","padding":0,"domain":["enc","rhy"],"range":[0,5.5]}},"y":{"field":"lo","type":"quantitative","scale":{"domain":[0,2]},"axis":{"values":[0,0.2,0.4,0.6,0.8,1,1.2,1.4,1.6,1.8,2],"labelExpr":"datum.value==0?'0':format(datum.value,'.1f')","labelFontSize":17,"labelOverlap":false,"tickSize":-15,"labelPadding":23,"title":"Enclave Glass/Rhyolite-Host Glass","titleFontSize":17,"titleFontWeight":"bold","titlePadding":21,"grid":false}}}},
{"data":{"name":"gl"},"transform":[{"filter":"isValid(datum.hi)"}],"mark":{"type":"tick","orient":"horizontal","size":10,"thickness":1.3,"color":"#555555"},
"encoding":{"x":{"field":"el","type":"nominal","scale":{"type":"point","padding":1,"domain":["Na","Al","Si","Ba","Ti","Mn","Fe","K","Ca","Sr"]},"axis":{"title":null,"labelAngle":0,"labelFontSize":18,"labelFontWeight":"bold","tickSize":-15,"labelPadding":23,"grid":false}},"xOffset":{"field":"grp","type":"nominal","scale":{"type":"point","padding":0,"domain":["enc","rhy"],"range":[0,5.5]}},"y":{"field":"hi","type":"quantitative","scale":{"domain":[0,2]},"axis":{"values":[0,0.2,0.4,0.6,0.8,1,1.2,1.4,1.6,1.8,2],"labelExpr":"datum.value==0?'0':format(datum.value,'.1f')","labelFontSize":17,"labelOverlap":false,"tickSize":-15,"labelPadding":23,"title":"Enclave Glass/Rhyolite-Host Glass","titleFontSize":17,"titleFontWeight":"bold","titlePadding":21,"grid":false}}}},
{"data":{"name":"gl"},"mark":{"type":"point","shape":"triangle-up","filled":true,"size":400,"stroke":"black","strokeWidth":1,"opacity":1},
"encoding":{"x":{"field":"el","type":"nominal","scale":{"type":"point","padding":1,"domain":["Na","Al","Si","Ba","Ti","Mn","Fe","K","Ca","Sr"]},"axis":{"title":null,"labelAngle":0,"labelFontSize":18,"labelFontWeight":"bold","tickSize":-15,"labelPadding":23,"grid":false}},
"xOffset":{"field":"grp","type":"nominal","scale":{"type":"point","padding":0,"domain":["enc","rhy"],"range":[0,5.5]}},
"y":{"field":"v","type":"quantitative","scale":{"domain":[0,2]},"axis":{"values":[0,0.2,0.4,0.6,0.8,1,1.2,1.4,1.6,1.8,2],"labelExpr":"datum.value==0?'0':format(datum.value,'.1f')","labelFontSize":17,"labelOverlap":false,"tickSize":-15,"labelPadding":23,"title":"Enclave Glass/Rhyolite-Host Glass","titleFontSize":17,"titleFontWeight":"bold","titlePadding":21,"grid":false}},
"fill":{"field":"grp","type":"nominal","scale":{"domain":["enc","rhy"],"range":["#3c78bd","#b6e0e8"]},"legend":{"title":null,"orient":"top-right","offset":3,"strokeColor":"#888888","fillColor":"white","padding":8,"symbolType":"triangle-up","symbolSize":380,"symbolStrokeColor":"black","symbolStrokeWidth":1,"labelFontSize":16.5,"rowPadding":6,"labelOffset":6,"labelLimit":300,"labelExpr":"datum.value=='enc'?'enclave glass (N = 16)':'rhyolite glass (N = 12)'"}}}},
{"data":{"values":[{"el":"Na","v":0.847,"t":"10% deviation"}]},"mark":{"type":"text","fontSize":14,"color":"#8c8c8c","align":"left","baseline":"middle","dx":-52},
"encoding":{"x":{"field":"el","type":"nominal","scale":{"type":"point","padding":1,"domain":["Na","Al","Si","Ba","Ti","Mn","Fe","K","Ca","Sr"]},"axis":{"title":null,"labelAngle":0,"labelFontSize":18,"labelFontWeight":"bold","tickSize":-15,"labelPadding":23,"grid":false}},"y":{"field":"v","type":"quantitative","scale":{"domain":[0,2]},"axis":{"values":[0,0.2,0.4,0.6,0.8,1,1.2,1.4,1.6,1.8,2],"labelExpr":"datum.value==0?'0':format(datum.value,'.1f')","labelFontSize":17,"labelOverlap":false,"tickSize":-15,"labelPadding":23,"title":"Enclave Glass/Rhyolite-Host Glass","titleFontSize":17,"titleFontWeight":"bold","titlePadding":21,"grid":false}},"text":{"field":"t"}}},
{"data":{"values":[{"el":"Na","v":1.92,"t":"b"}]},"mark":{"type":"text","fontSize":18,"fontWeight":"bold","align":"left","baseline":"middle","dx":-47},
"encoding":{"x":{"field":"el","type":"nominal","scale":{"type":"point","padding":1,"domain":["Na","Al","Si","Ba","Ti","Mn","Fe","K","Ca","Sr"]},"axis":{"title":null,"labelAngle":0,"labelFontSize":18,"labelFontWeight":"bold","tickSize":-15,"labelPadding":23,"grid":false}},"y":{"field":"v","type":"quantitative","scale":{"domain":[0,2]},"axis":{"values":[0,0.2,0.4,0.6,0.8,1,1.2,1.4,1.6,1.8,2],"labelExpr":"datum.value==0?'0':format(datum.value,'.1f')","labelFontSize":17,"labelOverlap":false,"tickSize":-15,"labelPadding":23,"title":"Enclave Glass/Rhyolite-Host Glass","titleFontSize":17,"titleFontWeight":"bold","titlePadding":21,"grid":false}},"text":{"field":"t"}}}
]
}
]
}
